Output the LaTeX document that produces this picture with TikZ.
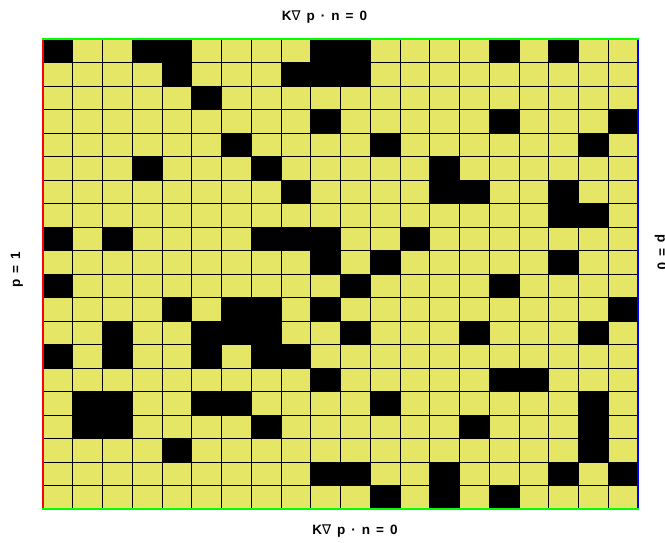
\documentclass[tikz,border=0pt]{standalone}
\usepackage{fontspec}
\setmainfont{Liberation Sans}
\newfontfamily\djv{DejaVu Sans}
\newfontfamily\lblfont[WordSpace=1.6]{Liberation Sans}
\definecolor{cellyellow}{RGB}{229,229,102}
\definecolor{bgreen}{RGB}{0,255,0}
\definecolor{bred}{RGB}{255,0,0}
\definecolor{bblue}{RGB}{0,0,255}
\begin{document}
\begin{tikzpicture}[x=1pt,y=-1pt,
  lbl/.style={font=\lblfont\bfseries\fontsize{13.5}{15}\selectfont, inner sep=0pt},
  gridline/.style={black, line width=0.9pt},
  edge/.style={line width=2.5pt}]
\useasboundingbox (0,0) rectangle (665,542);
\fill[cellyellow] (43,39) rectangle (638,509);
\foreach \c/\r in {0/0,3/0,4/0,9/0,10/0,15/0,17/0,
  4/1,8/1,9/1,10/1,
  5/2,
  9/3,15/3,19/3,
  6/4,11/4,18/4,
  3/5,7/5,13/5,
  8/6,13/6,14/6,17/6,
  17/7,18/7,
  0/8,2/8,7/8,8/8,9/8,12/8,
  9/9,11/9,17/9,
  0/10,10/10,15/10,
  4/11,6/11,7/11,9/11,19/11,
  2/12,5/12,6/12,7/12,10/12,14/12,18/12,
  0/13,2/13,5/13,7/13,8/13,
  9/14,15/14,16/14,
  1/15,2/15,5/15,6/15,11/15,18/15,
  1/16,2/16,7/16,14/16,18/16,
  4/17,18/17,
  9/18,10/18,13/18,17/18,19/18,
  11/19,13/19,15/19}
  {\fill[black] (43+29.75*\c,39+23.5*\r) rectangle ++(29.75,23.5);}
\foreach \i in {1,...,19}
  {\draw[gridline] (43+29.75*\i,39) -- (43+29.75*\i,509);}
\foreach \j in {1,...,19}
  {\draw[gridline] (43,39+23.5*\j) -- (638,39+23.5*\j);}
\draw[edge,bred] (43,38) -- (43,509);
\draw[edge,bblue] (638,38) -- (638,509);
\draw[edge,bgreen] (42,39) -- (639,39);
\draw[edge,bgreen] (42,509) -- (639,509);
\node[lbl] (top) at (324.5,17.5) {K{\djv\mdseries ∇} p · n = 0};
\node[lbl] (bottom) at (355,531) {K{\djv\mdseries ∇} p · n = 0};
\node[lbl,rotate=90] (left) at (17,270) {p = 1};
\node[lbl,rotate=-90] (right) at (661,252) {p = 0};
\end{tikzpicture}
\end{document}
